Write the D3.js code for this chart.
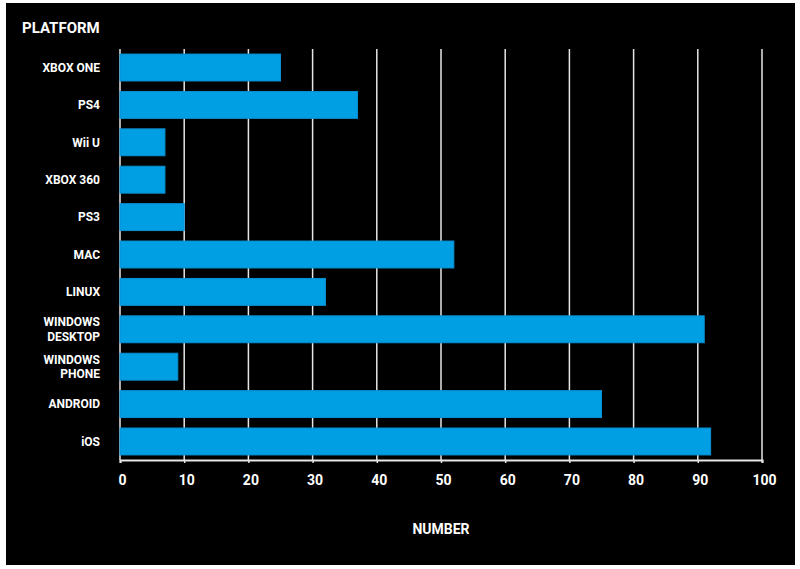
<!DOCTYPE html>
<html>
<head>
<meta charset="utf-8">
<script src="https://cdn.jsdelivr.net/npm/d3@7"></script>
<style>
  html, body { margin: 0; padding: 0; background: #fff; }
  svg { display: block; }
  text { font-family: Roboto, "DejaVu Sans", sans-serif; font-weight: 700; fill: #fff; }
</style>
</head>
<body>
<div id="chart"></div>
<script>
// Data
const platforms = ["XBOX ONE", "PS4", "Wii U", "XBOX 360", "PS3", "MAC", "LINUX",
    "WINDOWS\nDESKTOP", "WINDOWS\nPHONE", "ANDROID", "iOS"];
const counts = [25, 37, 7, 7, 10, 52, 32, 91, 9, 75, 92];
const xTicks = [0, 10, 20, 30, 40, 50, 60, 70, 80, 90, 100];

const width = 800, height = 569;
const margin = {top: 49, right: 38, bottom: 109, left: 120};
const plotW = width - margin.left - margin.right;
const plotH = height - margin.top - margin.bottom;

const svg = d3.select("#chart")
    .append("svg")
    .attr("width", width)
    .attr("height", height);

// Black panel
svg.append("rect")
    .attr("x", 6).attr("y", 3)
    .attr("width", 789).attr("height", 562)
    .attr("fill", "#000");

const g = svg.append("g")
    .attr("transform", `translate(${margin.left},${margin.top})`);

const x = d3.scaleLinear().domain([0, 100]).range([0, plotW]);
const y = d3.scaleBand().domain(platforms).range([0, plotH])
    .paddingInner(0.28).paddingOuter(0.135);

// Gridlines
g.append("g")
    .selectAll("line")
    .data(xTicks)
    .join("line")
    .attr("x1", d => x(d)).attr("x2", d => x(d))
    .attr("y1", 0).attr("y2", plotH)
    .attr("stroke", "#e6e6e6")
    .attr("stroke-width", 1.5);

// Bars
g.append("g")
    .selectAll("rect")
    .data(counts)
    .join("rect")
    .attr("x", x(0))
    .attr("y", (d, i) => y(platforms[i]))
    .attr("width", d => x(d))
    .attr("height", y.bandwidth())
    .attr("fill", "#009fe3")
    .attr("stroke", "#0a8fd2")
    .attr("stroke-width", 1);

// X axis
const xAxis = g.append("g")
    .attr("transform", `translate(0,${plotH})`)
    .call(d3.axisBottom(x).tickValues(xTicks).tickSize(3).tickPadding(12));
xAxis.select(".domain").attr("stroke", "#e6e6e6").attr("stroke-width", 2);
xAxis.selectAll(".tick line").attr("stroke", "#e6e6e6").attr("stroke-width", 1.5);
xAxis.selectAll(".tick text")
    .attr("fill", "#fff")
    .attr("dx", 2)
    .style("font-size", "14px");

// Category labels (two-line where needed)
const labels = g.append("g")
    .selectAll("text")
    .data(platforms)
    .join("text")
    .attr("x", -20)
    .attr("y", d => y(d) + y.bandwidth() / 2)
    .attr("text-anchor", "end")
    .style("font-size", "12px");
labels.each(function(d) {
    const lines = d.split("\n");
    const t = d3.select(this);
    lines.forEach((ln, i) => {
        t.append("tspan")
            .attr("x", -20)
            .attr("dy", i === 0 ? `${0.35 - (lines.length - 1) * 0.6}em` : "1.2em")
            .text(ln);
    });
});

// Titles
svg.append("text")
    .attr("x", 22).attr("y", 33)
    .style("font-size", "15px")
    .text("PLATFORM");

svg.append("text")
    .attr("x", margin.left + plotW / 2).attr("y", 534)
    .attr("text-anchor", "middle")
    .style("font-size", "14px")
    .text("NUMBER");
</script>
</body>
</html>
